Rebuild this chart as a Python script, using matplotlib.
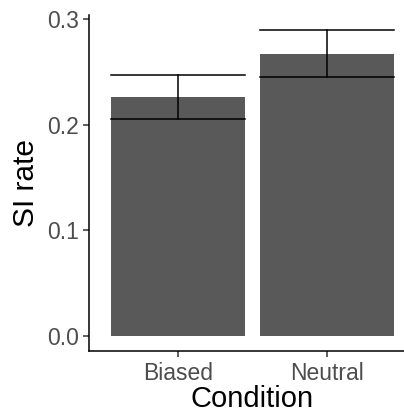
import matplotlib
matplotlib.use("Agg")
import matplotlib.pyplot as plt
import numpy as np

conditions = ["Biased", "Neutral"]
rates = [0.2263, 0.2670]
err_low = [0.2053, 0.2450]
err_high = [0.2468, 0.2893]
yticks = [0.0, 0.1, 0.2, 0.3]
ytick_labels = ["0.0", "0.1", "0.2", "0.3"]

plt.rcParams['font.family'] = ['Liberation Sans', 'DejaVu Sans']

fig = plt.figure(figsize=(4.04, 4.13), dpi=100)
W, H = 404, 413
left, right, top, bottom = 89, 416, 15, 351
ax = fig.add_axes([left / W, (H - bottom) / H, (right - left) / W, (bottom - top) / H])

x = np.arange(1, len(conditions) + 1)
ax.bar(x, rates, width=0.9, color="#595959", zorder=1)
bw = 0.9
for xi, lo, hi in zip(x, err_low, err_high):
    ax.plot([xi, xi], [lo, hi], color="black", lw=1.1, zorder=2)
    ax.plot([xi - bw / 2, xi + bw / 2], [lo, lo], color="black", lw=1.1, zorder=2)
    ax.plot([xi - bw / 2, xi + bw / 2], [hi, hi], color="black", lw=1.1, zorder=2)

ymax_data = max(err_high)
pad = 0.05 * ymax_data
ax.set_ylim(-pad, ymax_data + pad)
ax.set_xlim(0.4, 2.6)

ax.set_yticks(yticks)
ax.set_yticklabels(ytick_labels)
ax.set_xticks(x)
ax.set_xticklabels(conditions)

for s in ["top", "right"]:
    ax.spines[s].set_visible(False)
for s in ["left", "bottom"]:
    ax.spines[s].set_linewidth(1.1)
    ax.spines[s].set_color("black")

ax.tick_params(axis="both", length=4, width=1.1, color="#333333",
               labelsize=16.5, labelcolor="#4D4D4D")
ax.tick_params(axis="x", pad=4)
ax.tick_params(axis="y", pad=3)
ax.set_xlabel("Condition", fontsize=21, color="black", labelpad=0)
ax.set_ylabel("SI rate", fontsize=21.5, color="black", labelpad=5)

fig.savefig("out.png", dpi=100)
